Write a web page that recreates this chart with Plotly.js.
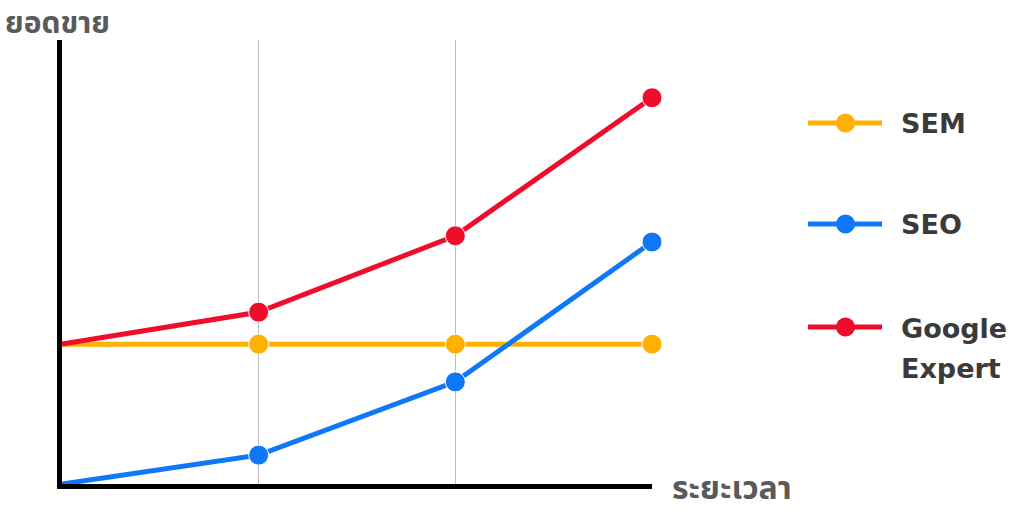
<!DOCTYPE html>
<html>
<head>
<meta charset="utf-8">
<script src="https://cdn.plot.ly/plotly-3.0.1.min.js"></script>
<style>
  html, body { margin: 0; padding: 0; background: #fff; }
  #chart { width: 1028px; height: 512px; }
</style>
</head>
<body>
<div id="chart"></div>
<script>
// time steps along the x axis
var steps = [0, 1, 2, 3];

// sales (ยอดขาย) per channel, 0-100 scale
var semValues = [31.5, 31.5, 31.5, 31.5];
var seoValues = [0, 6.5, 23.0, 54.5];
var googleValues = [31.5, 38.7, 55.9, 87.0];

var seriesNames = ['SEM', 'SEO', 'Google<br>Expert'];
var seriesColors = ['#FFB000', '#0F78F8', '#EE0E2C'];
var seriesValues = [semValues, seoValues, googleValues];

var yTitle = 'ยอดขาย';
var xTitle = 'ระยะเวลา';

var thaiFont = 'Noto Sans Thai, Kanit, Prompt, Noto Sans, sans-serif';
var latinFont = 'DejaVu Sans, sans-serif';

// plot area in pixels, used to place legend bits in paper units
var L = 62, T = 40, W = 590, H = 444;
function px(x) { return (x - L) / W; }
function py(y) { return (T + H - y) / H; }

var traces = [];
seriesNames.forEach(function(name, i) {
    traces.push({
        x: steps,
        y: seriesValues[i],
        type: 'scatter',
        mode: 'lines+markers',
        name: name,
        line: { color: seriesColors[i], width: 5 },
        // first point sits on the axis, no dot there
        marker: {
            color: seriesColors[i],
            opacity: 1,
            size: steps.map(function(s) { return s === 0 ? 0 : 20; })
        },
        cliponaxis: false,
        hoverinfo: 'skip'
    });
});

var shapes = [];
var annotations = [];

// hand drawn legend on the right
var rowY = [123, 224, 327];
seriesNames.forEach(function(name, i) {
    shapes.push({
        type: 'line', xref: 'paper', yref: 'paper',
        x0: px(808), x1: px(882), y0: py(rowY[i]), y1: py(rowY[i]),
        line: { color: seriesColors[i], width: 5 }
    });
    shapes.push({
        type: 'circle', xref: 'paper', yref: 'paper',
        x0: px(836), x1: px(855), y0: py(rowY[i] - 9.5), y1: py(rowY[i] + 9.5),
        fillcolor: seriesColors[i], line: { width: 0 }
    });
    name.split('<br>').forEach(function(part, k) {
        annotations.push({
            xref: 'paper', yref: 'paper',
            x: px(899), y: py(rowY[i] + 1 + k * 40),
            xanchor: 'left', yanchor: 'middle',
            text: '<b>' + part + '</b>',
            showarrow: false,
            font: { family: latinFont, size: 27, color: '#3a3a3a' }
        });
    });
});

annotations.push({
    xref: 'paper', yref: 'paper',
    x: px(4), y: py(0), xanchor: 'left', yanchor: 'top',
    text: '<b>' + yTitle + '</b>', showarrow: false, borderpad: 0,
    font: { family: thaiFont, size: 30, color: '#5a5a5a' }
});
annotations.push({
    xref: 'paper', yref: 'paper',
    x: px(670), y: py(489), xanchor: 'left', yanchor: 'middle',
    text: '<b>' + xTitle + '</b>', showarrow: false,
    font: { family: thaiFont, size: 32, color: '#5a5a5a' }
});

var layout = {
    width: 1028,
    height: 512,
    margin: { l: L, r: 1028 - L - W, t: T, b: 512 - T - H, pad: 0 },
    paper_bgcolor: '#ffffff',
    plot_bgcolor: '#ffffff',
    showlegend: false,
    xaxis: {
        range: [0, 3],
        tickvals: [1, 2],
        showticklabels: false,
        ticks: '',
        showgrid: true,
        gridcolor: '#bdbdbd',
        gridwidth: 1,
        zeroline: false,
        showline: true,
        linecolor: '#000000',
        linewidth: 5,
        fixedrange: true
    },
    yaxis: {
        range: [0, 100],
        showticklabels: false,
        ticks: '',
        showgrid: false,
        zeroline: false,
        showline: true,
        linecolor: '#000000',
        linewidth: 5,
        fixedrange: true
    },
    shapes: shapes,
    annotations: annotations
};

Plotly.newPlot('chart', traces, layout, { displayModeBar: false, staticPlot: true });
</script>
</body>
</html>
